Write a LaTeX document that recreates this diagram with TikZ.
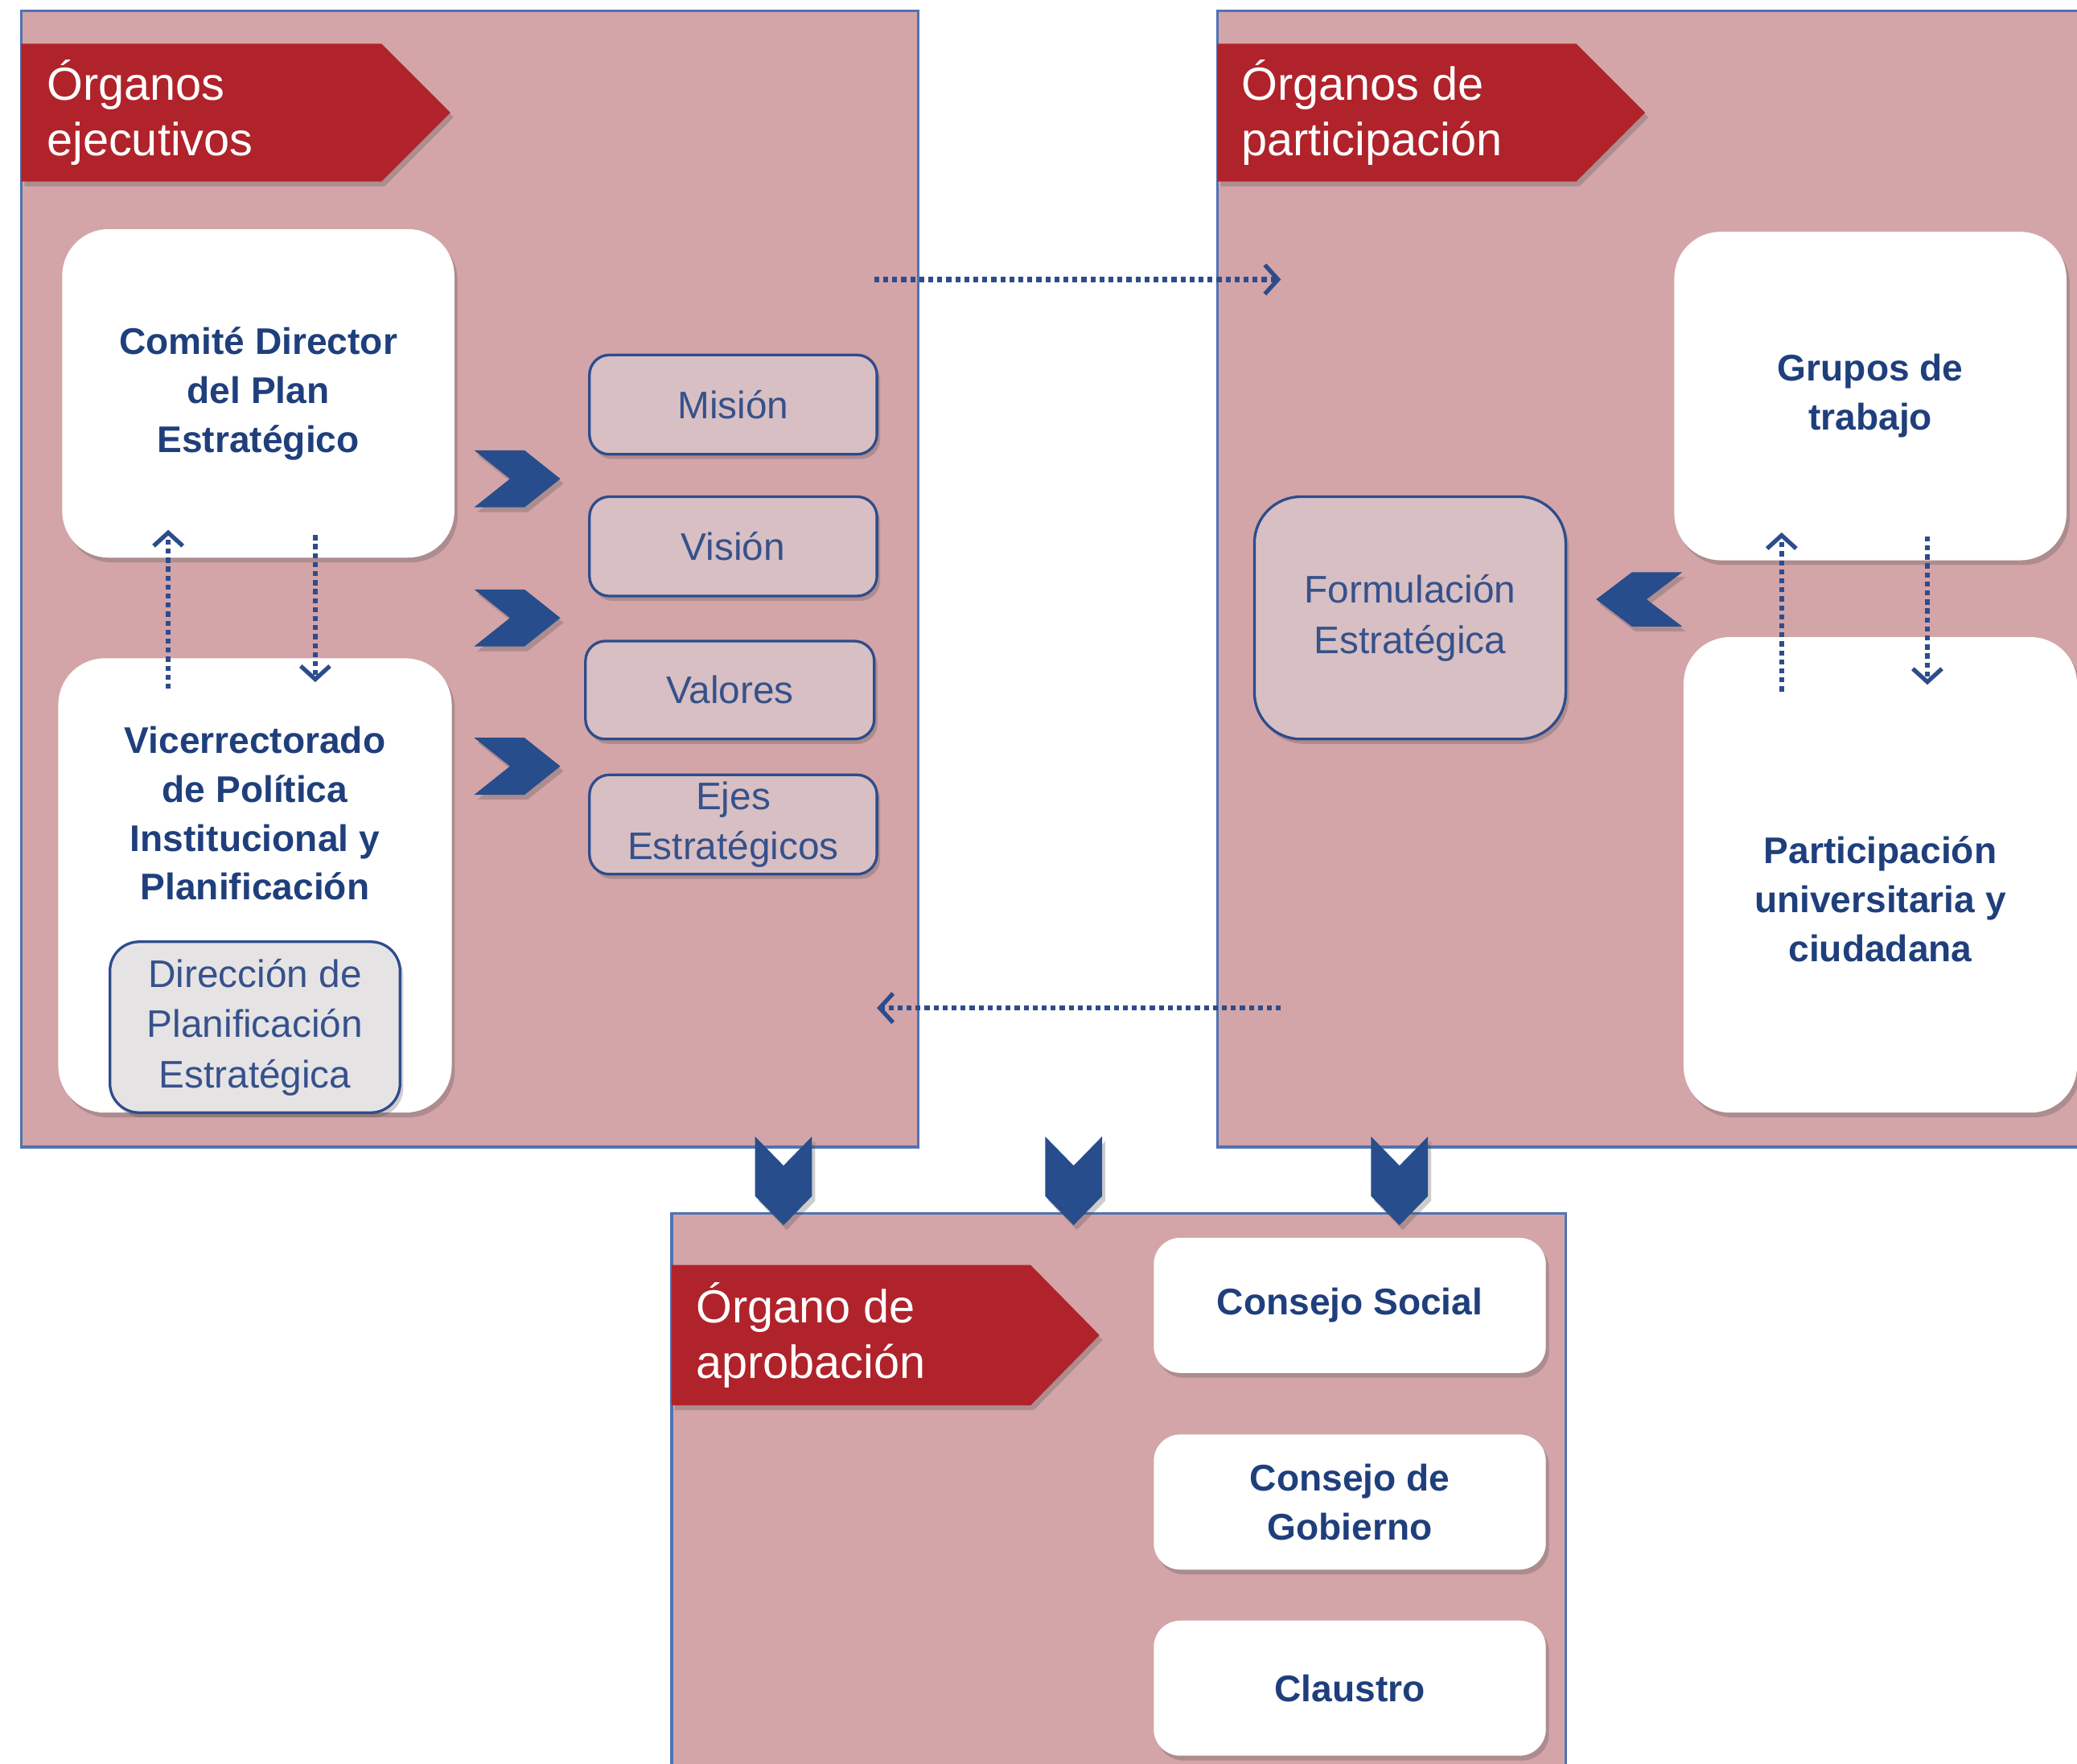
\documentclass[tikz,border=0pt]{standalone}
\usepackage{fontspec}
\setmainfont{Liberation Sans}
\usetikzlibrary{shadows,arrows.meta}
\definecolor{panelpink}{HTML}{D3A5A8}
\definecolor{panelline}{HTML}{4F73B3}
\definecolor{bannerred}{HTML}{B0232B}
\definecolor{chevblue}{HTML}{274D8C}
\definecolor{txtblue}{HTML}{1F3F7C}
\definecolor{boxpink}{HTML}{D7BFC3}
\definecolor{boxgrey}{HTML}{E6E3E5}
\definecolor{linkblue}{HTML}{2E4C8C}
\tikzset{
  panel/.style={fill=panelpink, draw=panelline, line width=1pt},
  softshadow/.style={drop shadow={shadow xshift=1.2pt, shadow yshift=-1.8pt, opacity=.28, fill=black!70}},
  banner/.style={fill=bannerred, softshadow},
  bannertext/.style={text=white, font=\fontsize{17.5}{21}\selectfont, align=left, anchor=west, inner sep=0pt},
  wbox/.style={rectangle, rounded corners=17.5pt, fill=white, softshadow, inner sep=0pt},
  cbox/.style={rectangle, rounded corners=10pt, fill=white, softshadow, inner sep=0pt, minimum width=148pt, minimum height=51pt},
  wtext/.style={text=txtblue, font=\fontsize{14}{18.5}\selectfont\bfseries, align=center, inner sep=0pt},
  pbox/.style={rectangle, rounded corners=7.5pt, fill=boxpink, draw=linkblue, line width=1pt, softshadow, inner sep=0pt,
    text=linkblue!90!gray, font=\fontsize{14.5}{19}\selectfont, align=center},
  chev/.style={fill=chevblue, softshadow},
  link/.style={draw=linkblue, line width=1.9pt, dash pattern=on 1.9pt off 1.5pt,
    -{Straight Barb[length=5pt,width=11pt,line width=1.6pt]}}
}
\begin{document}
\begin{tikzpicture}[x=0.5pt,y=-0.5pt]
\useasboundingbox (0,0) rectangle (1568,1331.2);
\clip (0,0) rectangle (1568,1331.2);
\fill[white] (0,0) rectangle (1568,1331.2);

% panels
\draw[panel] (16,8) rectangle (693,866);
\draw[panel] (919,8) rectangle (1620,866);
\draw[panel] (507,916) rectangle (1182,1400);

% banners
\fill[banner] (16,33) -- (288,33) -- (340,85) -- (288,137) -- (16,137) -- cycle;
\node[bannertext] (b1) at (35,85) {Órganos\\ejecutivos};
\fill[banner] (919,33) -- (1190,33) -- (1242,85) -- (1190,137) -- (919,137) -- cycle;
\node[bannertext] (b2) at (937,85) {Órganos de\\participación};
\fill[banner] (507,955) -- (778,955) -- (830,1008) -- (778,1061) -- (507,1061) -- cycle;
\node[bannertext] (b3) at (525,1008) {Órgano de\\aprobación};

% left panel boxes
\node[wbox, minimum width=148pt, minimum height=124pt] (comite) at (195,297) {};
\node[wtext] (comiteT) at (195,297) {Comité Director\\del Plan\\Estratégico};
\node[wbox, minimum width=148.5pt, minimum height=171.5pt] (vice) at (192.5,668.5) {};
\node[wtext] (viceT) at (192.5,614) {Vicerrectorado\\de Política\\Institucional y\\Planificación};
\node[pbox, fill=boxgrey, rounded corners=11pt, minimum width=109.5pt, minimum height=64.5pt] (dir) at (192.5,775.5) {Dirección de\\Planificación\\Estratégica};

\node[pbox, minimum width=108.5pt, minimum height=37.5pt] (mision) at (553.5,305.5) {Misión};
\node[pbox, minimum width=108.5pt, minimum height=37.5pt] (vision) at (553.5,412.5) {Visión};
\node[pbox, minimum width=109pt, minimum height=37pt] (valores) at (551,521) {Valores};
\node[pbox, minimum width=108.5pt, minimum height=37.5pt] (ejes) at (553.5,622.5) {Ejes\\Estratégicos};

% right panel boxes
\node[wbox, minimum width=148pt, minimum height=124pt] (grupos) at (1412,299) {};
\node[wtext] (gruposT) at (1412,299) {Grupos de\\trabajo};
\node[wbox, minimum width=148.5pt, minimum height=179.5pt] (part) at (1419.5,660.5) {};
\node[wtext] (partT) at (1419.5,679) {Participación\\universitaria y\\ciudadana};
\node[pbox, rounded corners=17.5pt, minimum width=117.5pt, minimum height=91.5pt] (form) at (1064.5,466.5) {Formulación\\Estratégica};

% bottom panel boxes
\node[cbox] (social) at (1019,985.5) {};
\node[wtext] (socialT) at (1019,985.5) {Consejo Social};
\node[cbox] (gobierno) at (1019,1134) {};
\node[wtext] (gobiernoT) at (1019,1134) {Consejo de\\Gobierno};
\node[cbox] (claustro) at (1019,1274.5) {};
\node[wtext] (claustroT) at (1019,1274.5) {Claustro};

% chevrons right-pointing
\foreach \yy in {340,445,557}{
  \fill[chev] (358,\yy) -- ++(38,0) -- ++(27,21.5) -- ++(-27,21.5) -- ++(-38,0) -- ++(27,-21.5) -- cycle;
}
% chevron left-pointing
\fill[chev] (1270,432) -- ++(-38,0) -- ++(-27,20.5) -- ++(27,20.5) -- ++(38,0) -- ++(-27,-20.5) -- cycle;
% chevrons down-pointing
\foreach \xx in {570,789,1035}{
  \fill[chev] (\xx,858) -- ++(21.5,22) -- ++(21.5,-22) -- ++(0,45) -- ++(-21.5,22) -- ++(-21.5,-22) -- cycle;
}

% dotted links
\coordinate (t1) at (660,211);
\coordinate (t2) at (967,211);
\coordinate (u1) at (967,761);
\coordinate (u2) at (662,761);
\draw[link] (t1) -- (t2);
\draw[link] (u1) -- (u2);

\coordinate (lu1) at (127,520);
\coordinate (lu2) at (127,400);
\coordinate (ld1) at (238,404);
\coordinate (ld2) at (238,515);
\draw[link] (lu1) -- (lu2);
\draw[link] (ld1) -- (ld2);

\coordinate (ru1) at (1345,522);
\coordinate (ru2) at (1345,402);
\coordinate (rd1) at (1455,405);
\coordinate (rd2) at (1455,517);
\draw[link] (ru1) -- (ru2);
\draw[link] (rd1) -- (rd2);
\end{tikzpicture}
\end{document}
